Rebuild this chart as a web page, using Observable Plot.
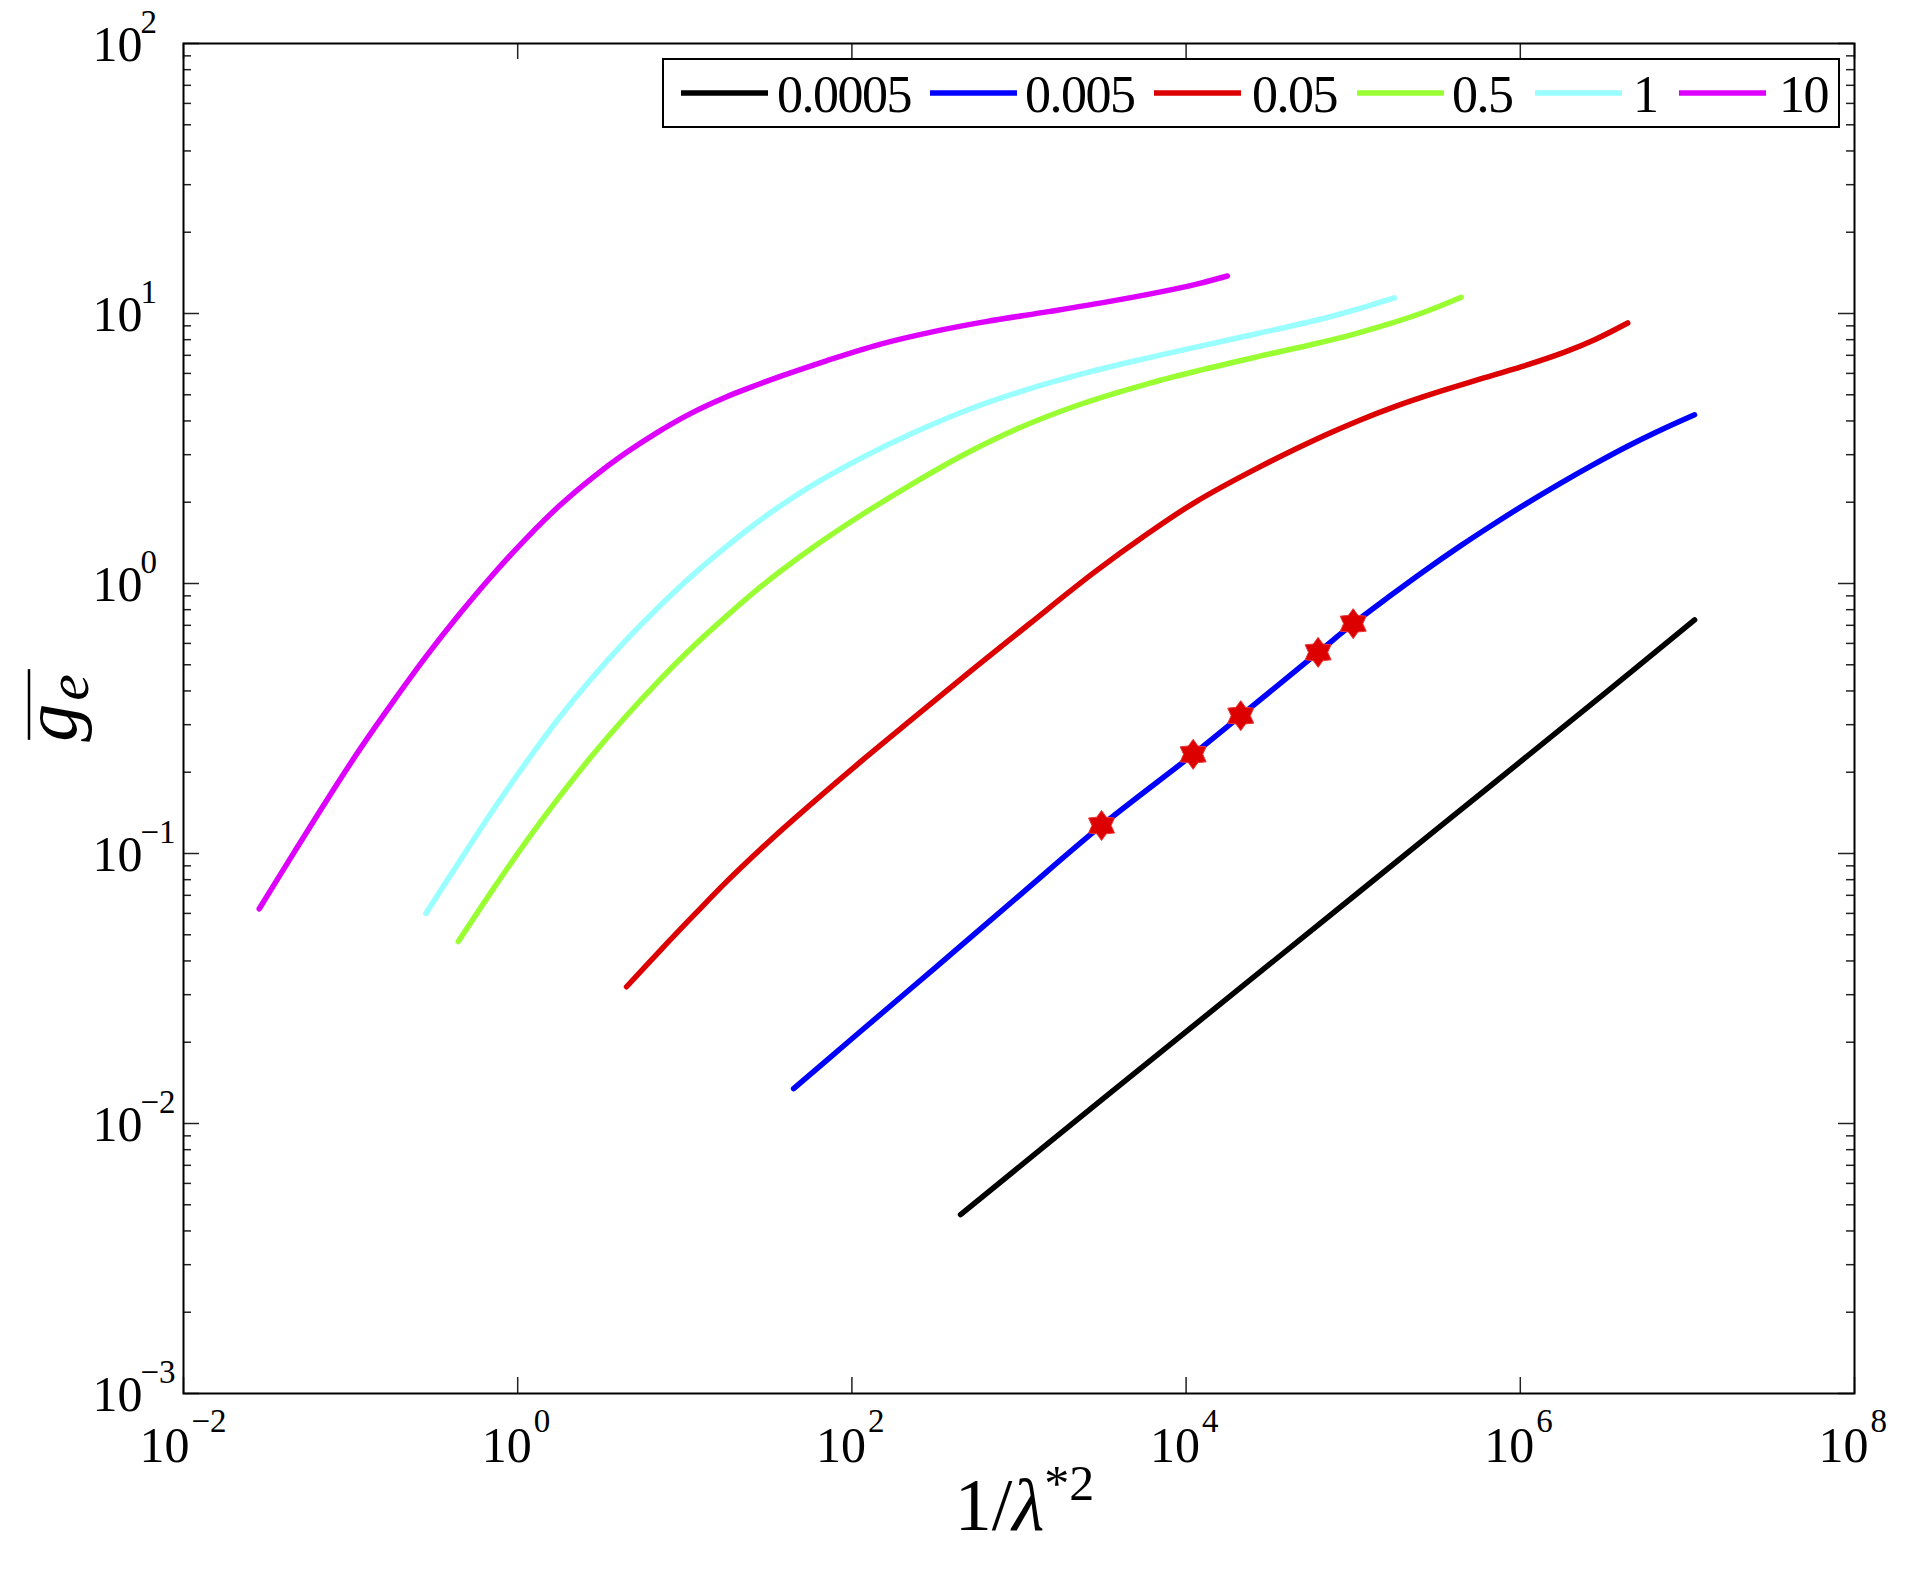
<!DOCTYPE html>
<html>
<head>
<meta charset="utf-8">
<script src="https://cdn.jsdelivr.net/npm/d3@7"></script>
<script src="https://cdn.jsdelivr.net/npm/@observablehq/plot@0.6"></script>
<style>
  html, body { margin: 0; padding: 0; background: #fff; }
  #chart svg { display: block; }
</style>
</head>
<body>
<div id="chart"></div>
<script>
// ---------------- data ----------------
const seriesNames = ["0.0005", "0.005", "0.05", "0.5", "1", "10"];
const seriesColors = ["#000000", "#0000ff", "#dd0000", "#99ff33", "#99ffff", "#dd00ff"];

const black_x = [447, 3162, 31620, 316200, 3162000, 11040000];
const black_y = [0.00460, 0.0123, 0.0389, 0.123, 0.389, 0.733];

const blue_x = [44.8, 100, 316, 1000, 3119, 11020, 21230, 61660, 100000, 162600, 261200, 442600, 676100, 1086000, 1746000, 2805000, 4508000, 7244000, 11040000];
const blue_y = [0.01346, 0.0206, 0.0378, 0.0697, 0.127, 0.233, 0.324, 0.556, 0.710, 0.891, 1.104, 1.384, 1.644, 1.977, 2.355, 2.780, 3.251, 3.750, 4.217];

const red_x = [4.48, 7.19, 11.6, 17.6, 28.3, 45.5, 119, 237, 522, 1151, 2818, 5902, 11120, 27230, 66680, 106700, 180700, 306200, 547000, 1030000, 1841000, 2805000, 4395000];
const red_y = [0.0321, 0.0440, 0.0600, 0.0782, 0.1035, 0.1349, 0.2249, 0.3199, 0.4775, 0.7079, 1.099, 1.531, 1.986, 2.692, 3.524, 4.000, 4.539, 5.070, 5.662, 6.368, 7.194, 8.017, 9.226];

const green_x = [0.441, 0.716, 1.09, 1.71, 2.75, 4.30, 6.90, 11.1, 17.9, 27.2, 38.0, 63.4, 119, 237, 470, 984, 2286, 5598, 12360, 27230, 60120, 100000, 171400, 275400, 442600];
const green_y = [0.0472, 0.0741, 0.1079, 0.1574, 0.2280, 0.3148, 0.4325, 0.5808, 0.7603, 0.9506, 1.119, 1.409, 1.824, 2.366, 3.006, 3.750, 4.592, 5.445, 6.180, 6.934, 7.745, 8.375, 9.226, 10.19, 11.48];

const cyan_x = [0.282, 0.446, 0.716, 1.15, 1.75, 2.75, 4.42, 6.90, 11.1, 17.4, 27.2, 38.0, 63.4, 119, 237, 522, 1151, 2541, 5598, 12360, 27230, 60120, 112500, 176200];
const cyan_y = [0.0600, 0.0931, 0.1455, 0.2218, 0.3148, 0.4426, 0.6138, 0.8128, 1.0715, 1.358, 1.687, 1.954, 2.388, 2.958, 3.631, 4.457, 5.260, 6.039, 6.792, 7.586, 8.453, 9.441, 10.50, 11.43];

const magenta_x = [0.0284, 0.0461, 0.0741, 0.113, 0.182, 0.284, 0.446, 0.697, 1.09, 1.75, 2.82, 4.42, 6.90, 11.1, 17.4, 27.2, 38.0, 70.3, 147, 308, 644, 1500, 3304, 6918, 11720, 17660];
const magenta_y = [0.0624, 0.1014, 0.162, 0.242, 0.369, 0.538, 0.767, 1.064, 1.439, 1.923, 2.472, 3.041, 3.639, 4.295, 4.887, 5.445, 5.875, 6.683, 7.69, 8.57, 9.35, 10.16, 11.02, 12.0, 12.88, 13.77];

const marker_x = [3119, 11020, 21230, 61660, 100000];
const marker_y = [0.127, 0.233, 0.324, 0.556, 0.710];

const xTicks = [1e-2, 1e0, 1e2, 1e4, 1e6, 1e8];
const xTickExp = ["\u22122", "0", "2", "4", "6", "8"];
const yTicks = [1e-3, 1e-2, 1e-1, 1e0, 1e1, 1e2];
const yTickExp = ["\u22123", "\u22122", "\u22121", "0", "1", "2"];
const yMinorTicks = [];
for (let k = 0; k < yTicks.length - 1; k++) for (let m = 2; m <= 9; m++) yMinorTicks.push(m * yTicks[k]);

// ---------------- layout ----------------
const W = 1917, H = 1578;
const mL = 183, mR = 63, mT = 43, mB = 185;
const innerW = W - mL - mR, innerH = H - mT - mB;
const serif = "'Liberation Serif', 'DejaVu Serif', serif";

const allX = [black_x, blue_x, red_x, green_x, cyan_x, magenta_x];
const allY = [black_y, blue_y, red_y, green_y, cyan_y, magenta_y];
const table = [];
allX.forEach((xs, s) => xs.forEach((x, i) => table.push({series: seriesNames[s], x, y: allY[s][i]})));
const markers = marker_x.map((x, i) => ({x, y: marker_y[i]}));

const hexagram = {
  draw(context, size) {
    const R = Math.sqrt(size / Math.PI);
    const r = R * 0.64;
    for (let i = 0; i < 12; i++) {
      const a = Math.PI / 6 * i - Math.PI / 2;
      const rad = i % 2 === 0 ? R : r;
      const px = rad * Math.cos(a), py = rad * Math.sin(a);
      if (i === 0) context.moveTo(px, py); else context.lineTo(px, py);
    }
    context.closePath();
  }
};

const tickStroke = "#222";
const lines = seriesNames.map((name, s) =>
  Plot.line(table.filter(d => d.series === name), {x: "x", y: "y", stroke: seriesColors[s], strokeWidth: 5.5, curve: "catmull-rom"})
);

const xPos = xTicks.map((v, i) => ({v, e: xTickExp[i]})).filter(d => !d.e.startsWith("\u2212"));
const xNeg = xTicks.map((v, i) => ({v, e: xTickExp[i]})).filter(d => d.e.startsWith("\u2212"));

const plot = Plot.plot({
  width: W, height: H,
  marginLeft: mL, marginRight: mR, marginTop: mT, marginBottom: mB,
  x: {type: "log", domain: [1e-2, 1e8], axis: null},
  y: {type: "log", domain: [1e-3, 1e2], axis: null},
  style: {background: "#fff"},
  marks: [
    Plot.tickY(yTicks, {y: d => d, insetRight: innerW - 16, stroke: tickStroke, strokeWidth: 1.5}),
    Plot.tickY(yTicks, {y: d => d, insetLeft: innerW - 16, stroke: tickStroke, strokeWidth: 1.5}),
    Plot.tickY(yMinorTicks, {y: d => d, insetRight: innerW - 8, stroke: tickStroke, strokeWidth: 1.5}),
    Plot.tickY(yMinorTicks, {y: d => d, insetLeft: innerW - 8, stroke: tickStroke, strokeWidth: 1.5}),
    Plot.tickX(xTicks, {x: d => d, insetTop: innerH - 16, stroke: tickStroke, strokeWidth: 1.5}),
    Plot.tickX(xTicks, {x: d => d, insetBottom: innerH - 16, stroke: tickStroke, strokeWidth: 1.5}),
    ...lines,
    Plot.dot(markers, {x: "x", y: "y", symbol: hexagram, r: 15, fill: "#dd0000", stroke: "#e83a3a", strokeWidth: 1}),
    Plot.frame({stroke: "#000", strokeWidth: 2}),
    Plot.text(yTicks, {y: d => d, text: () => "10", frameAnchor: "left", textAnchor: "start", dx: -91, dy: 1,
      fontSize: 50, fontFamily: serif, fill: "#000", lineAnchor: "middle"}),
    Plot.text(yTicks, {y: d => d, text: (d, i) => yTickExp[i], frameAnchor: "left", textAnchor: "start", dx: -43, dy: -21,
      fontSize: 33, fontFamily: serif, fill: "#000", lineAnchor: "middle"}),
    Plot.text(xPos, {x: "v", text: () => "10", frameAnchor: "bottom", textAnchor: "end", dx: 14, dy: 52,
      fontSize: 50, fontFamily: serif, fill: "#000", lineAnchor: "middle"}),
    Plot.text(xPos, {x: "v", text: "e", frameAnchor: "bottom", textAnchor: "start", dx: 16, dy: 28,
      fontSize: 33, fontFamily: serif, fill: "#000", lineAnchor: "middle"}),
    Plot.text(xNeg, {x: "v", text: () => "10", frameAnchor: "bottom", textAnchor: "end", dx: 6, dy: 52,
      fontSize: 50, fontFamily: serif, fill: "#000", lineAnchor: "middle"}),
    Plot.text(xNeg, {x: "v", text: "e", frameAnchor: "bottom", textAnchor: "start", dx: 8, dy: 28,
      fontSize: 33, fontFamily: serif, fill: "#000", lineAnchor: "middle"})
  ]
});

document.getElementById("chart").appendChild(plot);
const svg = d3.select(plot);

// ---------------- legend (inside the frame, top right) ----------------
const legendBox = {x: 663, y: 59, w: 1176, h: 68};
const legendLineX = [681, 930, 1154, 1357, 1535, 1679];
const legendTextX = [777, 1025, 1252, 1452, 1633, 1779];
const legendLineLen = 87;
const lg = svg.append("g").attr("class", "legend");
lg.append("rect").attr("x", legendBox.x).attr("y", legendBox.y).attr("width", legendBox.w).attr("height", legendBox.h)
  .attr("fill", "#fff").attr("stroke", "#000").attr("stroke-width", 2);
seriesNames.forEach((name, i) => {
  const cy = legendBox.y + legendBox.h / 2;
  lg.append("line").attr("x1", legendLineX[i]).attr("x2", legendLineX[i] + legendLineLen)
    .attr("y1", cy).attr("y2", cy).attr("stroke", seriesColors[i]).attr("stroke-width", 5.5);
  lg.append("text").attr("x", legendTextX[i]).attr("y", cy + 1).attr("dy", "0.34em")
    .attr("text-anchor", "start")
    .attr("font-family", serif).attr("font-size", 52).attr("letter-spacing", -1.5).attr("fill", "#000").text(name);
});

// ---------------- axis titles ----------------
const xt = svg.append("text").attr("x", mL + innerW / 2 + 6).attr("y", 1530)
  .attr("text-anchor", "middle").attr("font-family", serif).attr("font-size", 74).attr("fill", "#000");
xt.append("tspan").text("1/");
xt.append("tspan").attr("font-style", "italic").text("\u03bb");
xt.append("tspan").attr("font-size", 50).attr("dy", -30).text("*2");

const yt = svg.append("g").attr("transform", `translate(76, ${mT + innerH / 2 - 10}) rotate(-90)`);
const ytxt = yt.append("text").attr("text-anchor", "middle").attr("font-family", serif).attr("fill", "#000");
ytxt.append("tspan").attr("font-style", "italic").attr("font-size", 76).text("g");
ytxt.append("tspan").attr("font-style", "italic").attr("font-size", 60).attr("dx", 3).attr("dy", 12).text("e");
const bb = ytxt.node().getBBox();
yt.append("line").attr("x1", bb.x + 2).attr("x2", bb.x + bb.width + 5).attr("y1", -47).attr("y2", -47)
  .attr("stroke", "#000").attr("stroke-width", 2.5);
</script>
</body>
</html>
